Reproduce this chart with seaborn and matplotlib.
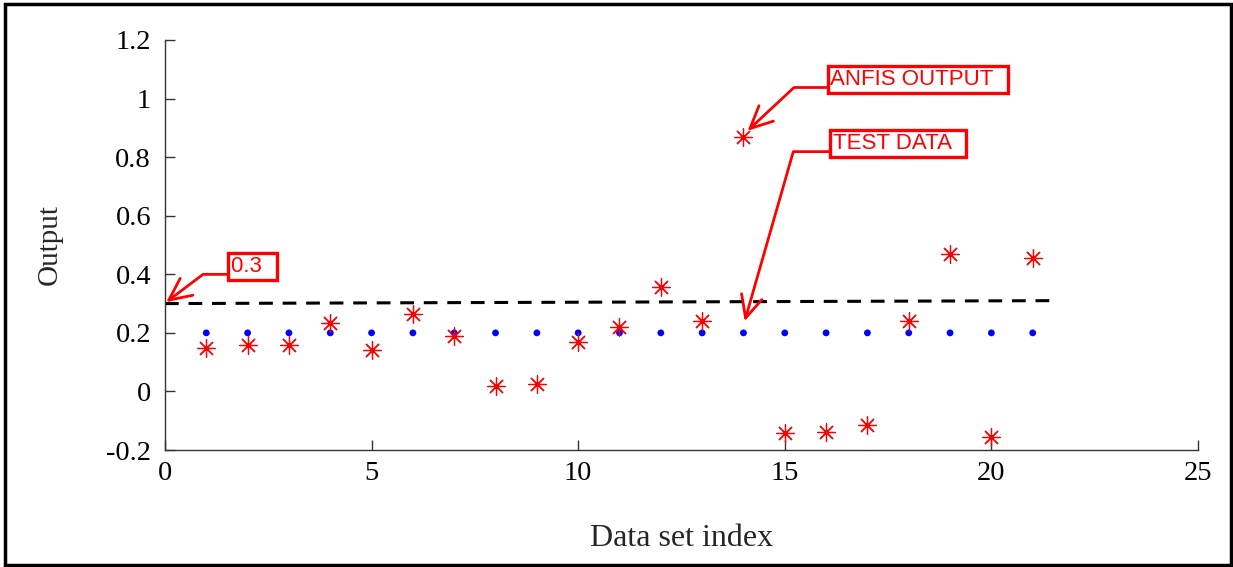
import numpy as np
import pandas as pd
import matplotlib
matplotlib.use('Agg')
import matplotlib.pyplot as plt
from matplotlib.patches import Rectangle
import seaborn as sns

# data
index = list(range(1, 22))
test_data = [0.2] * 21
anfis_output = [0.15, 0.157, 0.16, 0.235, 0.14, 0.266, 0.19, 0.017, 0.024, 0.17, 0.22,
                0.355, 0.24, 0.87, -0.143, -0.137, -0.116, 0.239, 0.47, -0.154, 0.454]
threshold_x = [0, 21.5]
threshold_y = [0.3, 0.31]

xticks = [0, 5, 10, 15, 20, 25]
yticks = [-0.2, 0, 0.2, 0.4, 0.6, 0.8, 1, 1.2]
ytick_labels = ['-0.2', '0', '0.2', '0.4', '0.6', '0.8', '1', '1.2']

sns.set_style('white')
plt.rcParams['font.family'] = ['Liberation Serif', 'DejaVu Serif']

df = pd.DataFrame({'index': index, 'test': test_data, 'anfis': anfis_output})
thr = pd.DataFrame({'x': threshold_x, 'y': threshold_y})

fig = plt.figure(figsize=(12.33, 5.67), dpi=100)
ax = fig.add_axes([0.1338, 0.2063, 0.8378, 0.7232])

sns.lineplot(data=thr, x='x', y='y', ax=ax, color='black', lw=2.2,
             linestyle=(0, (4.5, 3.2)), zorder=2)
sns.scatterplot(data=df, x='index', y='test', ax=ax, color='blue', s=24,
                edgecolor='none', zorder=3)
sns.scatterplot(data=df, x='index', y='anfis', ax=ax, color='red', s=160,
                marker=(8, 2, 0), linewidth=0.9, zorder=4)

ax.set_xlim(0, 25)
ax.set_ylim(-0.2, 1.2)
ax.set_xticks(xticks)
ax.set_yticks(yticks)
ax.set_yticklabels(ytick_labels)
ax.tick_params(direction='in', length=7, width=1, color='#333333',
               labelsize=20.5, labelcolor='black', bottom=True, left=True)
ax.tick_params(axis='x', pad=8)
ax.tick_params(axis='y', pad=10)
ax.set_xlabel('Data set index', fontsize=23, labelpad=27)
ax.set_ylabel('Output', fontsize=21, labelpad=31)
for side in ['top', 'right']:
    ax.spines[side].set_visible(False)
for side in ['left', 'bottom']:
    ax.spines[side].set_color('#333333')
    ax.spines[side].set_linewidth(1)

box = dict(boxstyle='square,pad=0.12', fc='white', ec='red', lw=2.4)
notes = [('0.3  ', (1.6, 0.427), (0.03, 0.305), 37),
         ('ANFIS OUTPUT  ', (16.1, 1.065), (14.1, 0.89), 43),
         ('TEST DATA  ', (16.17, 0.846), (14.03, 0.24), 74)]
for label, xytext, xy, ang in notes:
    ax.annotate(label, xy=xy, xytext=xytext, ha='left', va='center',
                fontsize=16, color='red', family=['Liberation Sans', 'DejaVu Sans'],
                bbox=box, zorder=6,
                arrowprops=dict(arrowstyle='->,head_length=0.8,head_width=0.38',
                                color='red', lw=2, mutation_scale=20,
                                relpos=(0, 0.12), shrinkA=0, shrinkB=0,
                                connectionstyle=f'angle,angleA=0,angleB={ang},rad=0'))

fig.patches.append(Rectangle((0.004, 0.0035), 0.9944, 0.9903, transform=fig.transFigure,
                             fill=False, ec='black', lw=2.5))

fig.savefig('out.png', dpi=100)
